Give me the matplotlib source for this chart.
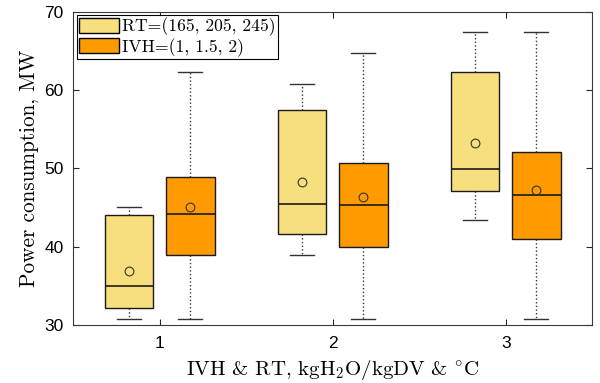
import matplotlib
matplotlib.use('Agg')
import matplotlib.pyplot as plt
from matplotlib.patches import Patch

plt.rcParams['mathtext.fontset'] = 'cm'
plt.rcParams['font.family'] = ['Liberation Sans', 'DejaVu Sans']
serif = ['cmr10', 'DejaVu Serif']

# Box statistics per group: [group1, group2, group3]
groups = [1, 2, 3]
rt_whislo = [30.8, 38.9, 43.4]
rt_q1 = [32.2, 41.6, 47.1]
rt_med = [34.9, 45.5, 49.9]
rt_q3 = [44.0, 57.4, 62.3]
rt_whishi = [45.1, 60.8, 67.4]
rt_mean = [36.9, 48.2, 53.3]

ivh_whislo = [30.8, 30.8, 30.8]
ivh_q1 = [38.9, 40.0, 41.0]
ivh_med = [44.2, 45.3, 46.6]
ivh_q3 = [48.9, 50.7, 52.1]
ivh_whishi = [62.3, 64.7, 67.4]
ivh_mean = [45.0, 46.3, 47.2]

rt_color = '#F7DF7E'
ivh_color = '#FF9A00'


def make_stats(lo, q1, med, q3, hi, mean):
    return [dict(whislo=a, q1=b, med=c, q3=d, whishi=e, mean=f, fliers=[])
            for a, b, c, d, e, f in zip(lo, q1, med, q3, hi, mean)]


fig, ax = plt.subplots(figsize=(6, 3.83), dpi=100)
fig.subplots_adjust(left=0.122, right=0.987, top=0.969, bottom=0.152)

off = 0.177
width = 0.28
for stats, color, shift in [
        (make_stats(rt_whislo, rt_q1, rt_med, rt_q3, rt_whishi, rt_mean), rt_color, -off),
        (make_stats(ivh_whislo, ivh_q1, ivh_med, ivh_q3, ivh_whishi, ivh_mean), ivh_color, off)]:
    ax.bxp(stats, positions=[g + shift for g in groups], widths=width,
           patch_artist=True, showmeans=True, showfliers=False,
           boxprops=dict(facecolor=color, edgecolor='#1a1a1a', linewidth=1.0),
           medianprops=dict(color='#1a1a1a', linewidth=1.2),
           whiskerprops=dict(color='#333333', linestyle=':', linewidth=1.0),
           capprops=dict(color='#333333', linewidth=1.0),
           capwidths=width / 2,
           meanprops=dict(marker='o', markerfacecolor='none',
                          markeredgecolor='#333333', markersize=6.3,
                          markeredgewidth=0.8))

ax.set_xlim(0.5, 3.5)
ax.set_ylim(30, 70)
ax.set_xticks(groups)
ax.set_xticklabels([str(g) for g in groups])
ax.set_yticks([30, 40, 50, 60, 70])
ax.tick_params(direction='in', top=True, right=True, labelsize=12.5,
               color='#262626', length=4)
ax.tick_params(axis='x', pad=8)
ax.tick_params(axis='y', pad=7)
for s in ax.spines.values():
    s.set_color('#3a3a3a')
    s.set_linewidth(0.8)

ax.set_ylabel('Power consumption, MW', fontsize=15.3, family=serif, labelpad=4)
ax.set_xlabel(r'IVH & RT, kgH$_2$O/kgDV & $^{\circ}$C', fontsize=15,
              family=serif, labelpad=5)

handles = [Patch(facecolor=rt_color, edgecolor='black'),
           Patch(facecolor=ivh_color, edgecolor='black')]
leg = ax.legend(handles, ['RT=(165, 205, 245)', 'IVH=(1, 1.5, 2)'],
                loc='upper left', bbox_to_anchor=(0.0, 1.0),
                prop=dict(family=serif, size=12.7),
                fancybox=False, framealpha=1, edgecolor='black',
                borderpad=0.12, handlelength=2.3, handleheight=0.95,
                handletextpad=0.15, labelspacing=0.1, borderaxespad=0.2)
leg.get_frame().set_linewidth(0.8)

fig.savefig('out.png', dpi=100)
